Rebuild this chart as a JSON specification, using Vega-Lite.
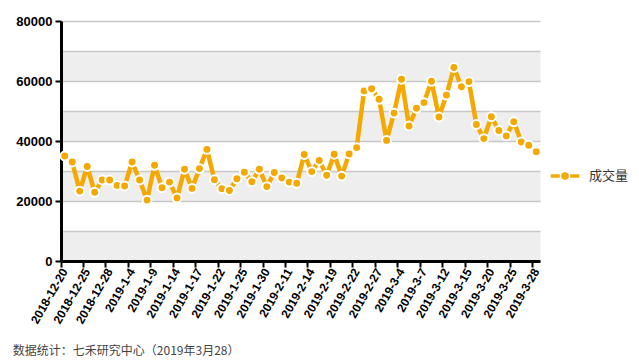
{
  "$schema": "https://vega.github.io/schema/vega-lite/v6.json",
  "width": 479,
  "height": 240,
  "autosize": "none",
  "padding": {"left": 61, "top": 21, "right": 99, "bottom": 102},
  "background": "white",
  "title": {
    "text": "数据统计：七禾研究中心（2019年3月28）",
    "orient": "bottom",
    "anchor": "start",
    "frame": "bounds",
    "font": "Noto Sans CJK SC",
    "fontSize": 12,
    "fontWeight": "normal",
    "color": "#444444",
    "offset": 21,
    "dx": -3
  },
  "data": {
    "values": [
      {"date": "2018-12-20", "value": 35000},
      {"date": "2018-12-21", "value": 33000},
      {"date": "2018-12-24", "value": 23300},
      {"date": "2018-12-25", "value": 31500},
      {"date": "2018-12-26", "value": 22900},
      {"date": "2018-12-27", "value": 27000},
      {"date": "2018-12-28", "value": 27000},
      {"date": "2019-1-2", "value": 25200},
      {"date": "2019-1-3", "value": 25000},
      {"date": "2019-1-4", "value": 33000},
      {"date": "2019-1-7", "value": 27000},
      {"date": "2019-1-8", "value": 20300},
      {"date": "2019-1-9", "value": 31900},
      {"date": "2019-1-10", "value": 24400},
      {"date": "2019-1-11", "value": 26300},
      {"date": "2019-1-14", "value": 21000},
      {"date": "2019-1-15", "value": 30600},
      {"date": "2019-1-16", "value": 24200},
      {"date": "2019-1-17", "value": 30800},
      {"date": "2019-1-18", "value": 37200},
      {"date": "2019-1-21", "value": 27100},
      {"date": "2019-1-22", "value": 24100},
      {"date": "2019-1-23", "value": 23500},
      {"date": "2019-1-24", "value": 27400},
      {"date": "2019-1-25", "value": 29600},
      {"date": "2019-1-28", "value": 26400},
      {"date": "2019-1-29", "value": 30600},
      {"date": "2019-1-30", "value": 24800},
      {"date": "2019-1-31", "value": 29500},
      {"date": "2019-2-1", "value": 27700},
      {"date": "2019-2-11", "value": 26300},
      {"date": "2019-2-12", "value": 25900},
      {"date": "2019-2-13", "value": 35500},
      {"date": "2019-2-14", "value": 29800},
      {"date": "2019-2-15", "value": 33500},
      {"date": "2019-2-18", "value": 28600},
      {"date": "2019-2-19", "value": 35600},
      {"date": "2019-2-20", "value": 28300},
      {"date": "2019-2-21", "value": 35700},
      {"date": "2019-2-22", "value": 37800},
      {"date": "2019-2-25", "value": 56700},
      {"date": "2019-2-26", "value": 57400},
      {"date": "2019-2-27", "value": 53900},
      {"date": "2019-2-28", "value": 40200},
      {"date": "2019-3-1", "value": 49300},
      {"date": "2019-3-4", "value": 60600},
      {"date": "2019-3-5", "value": 45000},
      {"date": "2019-3-6", "value": 50900},
      {"date": "2019-3-7", "value": 52800},
      {"date": "2019-3-8", "value": 59900},
      {"date": "2019-3-11", "value": 48000},
      {"date": "2019-3-12", "value": 55300},
      {"date": "2019-3-13", "value": 64500},
      {"date": "2019-3-14", "value": 58100},
      {"date": "2019-3-15", "value": 59800},
      {"date": "2019-3-18", "value": 45500},
      {"date": "2019-3-19", "value": 40800},
      {"date": "2019-3-20", "value": 48100},
      {"date": "2019-3-21", "value": 43500},
      {"date": "2019-3-22", "value": 41700},
      {"date": "2019-3-25", "value": 46400},
      {"date": "2019-3-26", "value": 39700},
      {"date": "2019-3-27", "value": 38600},
      {"date": "2019-3-28", "value": 36400}
    ]
  },
  "encoding": {
    "x": {
      "field": "date",
      "type": "ordinal",
      "sort": null,
      "scale": {"type": "band", "paddingInner": 0, "paddingOuter": 0},
      "axis": {
        "values": ["2018-12-20", "2018-12-25", "2018-12-28", "2019-1-4", "2019-1-9", "2019-1-14", "2019-1-17", "2019-1-22", "2019-1-25", "2019-1-30", "2019-2-11", "2019-2-14", "2019-2-19", "2019-2-22", "2019-2-27", "2019-3-4", "2019-3-7", "2019-3-12", "2019-3-15", "2019-3-20", "2019-3-25", "2019-3-28"],
        "bandPosition": 0,
        "title": null,
        "grid": false,
        "domain": true,
        "domainColor": "black",
        "domainWidth": 3,
        "ticks": true,
        "tickColor": "black",
        "tickWidth": 2,
        "tickSize": 6,
        "labelAngle": -60,
        "labelFont": "Liberation Sans",
        "labelFontWeight": "bold",
        "labelFontSize": 12,
        "labelColor": "black",
        "labelPadding": 2,
        "labelOverlap": false
      }
    }
  },
  "layer": [
    {
      "mark": {"type": "line", "stroke": "#f5a900", "strokeWidth": 4.5, "strokeJoin": "round"},
      "encoding": {
        "y": {
          "field": "value",
          "type": "quantitative",
          "scale": {"domain": [0, 80000], "nice": false},
          "axis": {
            "orient": "left",
            "values": [5000, 25000, 45000, 65000],
            "grid": true,
            "gridColor": "#eeeeee",
            "gridWidth": 30,
            "gridOpacity": 1,
            "domain": false,
            "ticks": false,
            "labels": false,
            "title": null
          }
        }
      }
    },
    {
      "mark": {"type": "point", "filled": true, "size": 80, "stroke": "white", "strokeWidth": 2, "opacity": 1},
      "encoding": {
        "y": {
          "field": "value",
          "type": "quantitative",
          "scale": {"domain": [0, 80000], "nice": false},
          "axis": {
            "orient": "left",
            "values": [0, 10000, 20000, 30000, 40000, 50000, 60000, 70000, 80000],
            "format": "d",
            "labelExpr": "datum.value % 20000 === 0 ? datum.label : ''",
            "grid": true,
            "gridColor": "#c8c8c8",
            "gridWidth": 1.5,
            "domain": true,
            "domainColor": "black",
            "domainWidth": 3,
            "ticks": true,
            "tickColor": "black",
            "tickWidth": 2,
            "tickSize": 6,
            "tickOpacity": {"condition": {"test": "datum.value % 20000 === 0", "value": 1}, "value": 0},
            "labelFont": "Liberation Sans",
            "labelFontWeight": "bold",
            "labelFontSize": 13,
            "labelColor": "black",
            "labelPadding": 3,
            "title": null
          }
        },
        "color": {
          "datum": "成交量",
          "type": "nominal",
          "scale": {"domain": ["成交量"], "range": ["#f5a900"]},
          "legend": {
            "title": null,
            "orient": "none",
            "legendX": 488,
            "legendY": 139,
            "symbolType": "M-1,-0.16 L-0.3,-0.16 L-0.3,0.16 L-1,0.16 Z M0.3,-0.16 L1,-0.16 L1,0.16 L0.3,0.16 Z M0.3,0 A0.3,0.3 0 1,1 -0.3,0 A0.3,0.3 0 1,1 0.3,0 Z",
            "symbolSize": 900,
            "symbolFillColor": "#f5a900",
            "symbolStrokeColor": "white",
            "symbolStrokeWidth": 1.5,
            "symbolOpacity": 1,
            "labelFont": "Noto Sans CJK SC",
            "labelFontSize": 13,
            "labelColor": "#333333",
            "labelOffset": 8
          }
        }
      }
    }
  ],
  "resolve": {"axis": {"y": "independent"}},
  "config": {"view": {"stroke": null}}
}
